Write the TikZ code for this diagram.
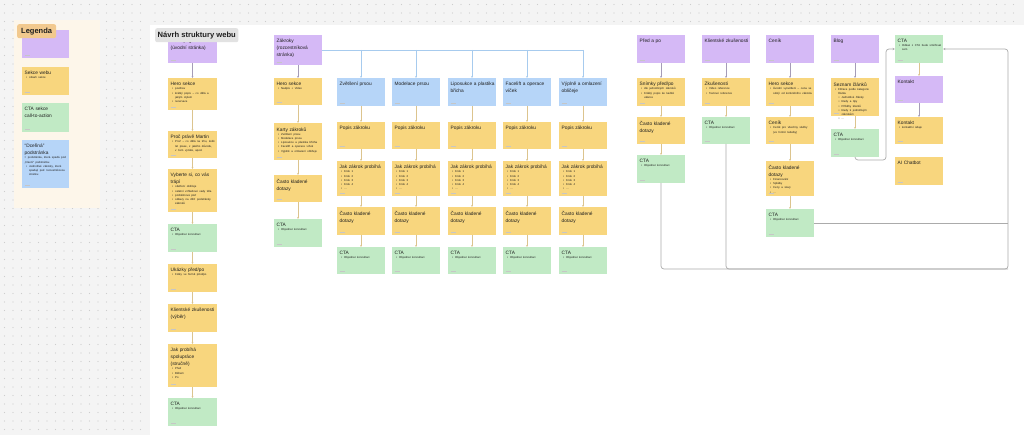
\documentclass[tikz,border=0pt]{standalone}
\usepackage{fontspec}
\setmainfont{Liberation Sans}
\usetikzlibrary{arrows.meta}
\setlength{\parindent}{0pt}
\definecolor{cpur}{HTML}{D5B9F6}
\definecolor{cyel}{HTML}{F8D67E}
\definecolor{cgrn}{HTML}{C1EAC5}
\definecolor{cblu}{HTML}{B6D5F8}
\definecolor{cbg}{HTML}{F4F4F4}
\definecolor{cdot}{HTML}{CDCDCD}
\definecolor{clgd}{HTML}{FDF6EA}
\definecolor{ctag}{HTML}{F2C98E}
\definecolor{cttl}{HTML}{E2E2E2}
\definecolor{carr}{HTML}{DCC48E}
\definecolor{carp}{HTML}{A59CB8}
\definecolor{cbln}{HTML}{A7CBEE}
\definecolor{cgln}{HTML}{ABABAB}
\definecolor{ctxt}{HTML}{1E1E1E}

\newcommand\tfont{\fontsize{4.8}{7}\selectfont}
\newcommand\bfnt{\fontsize{2.8}{4.2}\selectfont}
\newcommand\bul[1]{\par{\bfnt\hangindent=4.5pt\hspace*{1.5pt}\makebox[3pt][l]{\textbullet}#1\par}}
\newcommand\sbul[1]{\par{\bfnt\hangindent=8pt\hspace*{5pt}\makebox[3pt][l]{\textbullet}#1\par}}
\newcommand\smallnote[1]{\par{\bfnt #1\par}}

\tikzset{
  card/.style={rectangle, draw=none, minimum width=48pt, inner sep=0pt, outer sep=0pt},
  ctext/.style={inner sep=0pt, align=left, text width=44pt, font=\tfont, text=ctxt},
  yel/.style={fill=cyel}, pur/.style={fill=cpur}, grn/.style={fill=cgrn}, blu/.style={fill=cblu},
  authm/.style={draw=gray!45, line width=0.5pt},
  fl/.style={draw=carr, line width=0.45pt, -{Stealth[length=2pt,width=1.8pt]}},
  flp/.style={fl, draw=carp},
  bline/.style={draw=cbln, line width=0.5pt},
  blarr/.style={bline, -{Stealth[length=2pt,width=1.8pt]}},
  gl/.style={draw=cgln, line width=0.7pt, rounded corners=3pt},
  ltag/.style={fill=ctag, rounded corners=2pt, inner xsep=4pt, inner ysep=0pt, minimum height=14pt, font=\bfseries\fontsize{7.5}{8}\selectfont, text=ctxt},
  ttag/.style={fill=cttl, rounded corners=2pt, inner xsep=2.5pt, inner ysep=0pt, minimum height=14pt, font=\bfseries\fontsize{7.6}{8}\selectfont, text=ctxt}
}

\newcommand\stick[7]{%
  \node[card,#2,minimum height=#5,anchor=north west] (#1) at (#3,#4) {};
  \node[ctext,anchor=north west] (#1-t) at ([shift={(2.5,4)}]#1.north west) {#6#7};
  \draw[authm] ([shift={(2.5,-3)}]#1.south west) -- ++(5,0);
}

\begin{document}
\begin{tikzpicture}[x=1pt,y=-1pt]
\useasboundingbox (0,0) rectangle (1024,435);
\fill[cbg] (0,0) rectangle (1024,435);
\foreach \x in {4.5,13,...,146} {\foreach \y in {4.5,13,...,432} {\fill[cdot] (\x,\y) circle[radius=0.6];}}
\foreach \x in {155,163.5,...,1020} {\foreach \y in {4.5,13,21.5} {\fill[cdot] (\x,\y) circle[radius=0.6];}}
\fill[white] (150,25) rectangle (1024,435);

% ---------- Legend ----------
\fill[clgd] (14,20) rectangle (100,208);
\stick{lg1}{pur,minimum width=47pt}{22}{30}{28}{Stránka webu}{}
\stick{lg2}{yel,minimum width=47pt}{22}{67}{28}{Sekce webu}{\bul{obsah sekce}}
\stick{lg3}{grn,minimum width=47pt}{22}{103}{29}{CTA sekce\\call-to-action}{}
\stick{lg4}{blu,minimum width=47pt}{22}{140}{48}{“Dceřiná”\\podstránka}{\smallnote{= podstránka, která spadá pod „hlavní“ podstránku}\bul{Jednotlivé zákroky, které spadají pod rozcestníkovou stránku}}
\node[ltag,anchor=north west] (legenda) at (17,24) {Legenda};

% ---------- Homepage column ----------
\stick{h0}{pur,minimum width=49pt}{168}{35}{28}{Homepage\\(úvodní stránka)}{}
\stick{h1}{yel,minimum width=49pt}{168}{78}{32}{Hero sekce}{\bul{pozdrav}\bul{krátký popis – co dělá a jakým stylem}\bul{rezervace}}
\stick{h2}{yel,minimum width=49pt}{168}{131}{27}{Proč právě Martin}{\bul{Proč – co dělá na trhu, kolik let praxe, z jakého důvodu, v čem vyniká, apod.}}
\stick{h3}{yel,minimum width=49pt}{168}{169}{43}{Vyberte si, co vás\\trápí}{\bul{ošetření obličeje}\bul{ostatní vzhledové vady těla}\bul{problémová pleť}\bul{odkazy na dílčí podstránky zákroků}}
\stick{h4}{grn,minimum width=49pt}{168}{224}{28}{CTA}{\bul{Objednat konzultaci}}
\stick{h5}{yel,minimum width=49pt}{168}{264}{28}{Ukázky před/po}{\bul{Fotky ve formě před/po}}
\stick{h6}{yel,minimum width=49pt}{168}{304}{28}{Klientské zkušenosti\\(výběr)}{}
\stick{h7}{yel,minimum width=49pt}{168}{344}{43}{Jak probíhá\\spolupráce\\(stručně)}{\bul{Před}\bul{Během}\bul{Po}}
\stick{h8}{grn,minimum width=49pt}{168}{398}{28}{CTA}{\bul{Objednat konzultaci}}
\draw[flp] (h0.south) -- (h1.north);
\foreach \a/\b in {h1/h2,h2/h3,h3/h4,h4/h5,h5/h6,h6/h7,h7/h8} {\draw[fl] (\a.south) -- (\b.north);}
\node[ttag,anchor=north west] (title) at (155,28) {Návrh struktury webu};

% ---------- Zákroky column ----------
\stick{z0}{pur}{274}{35}{30}{Zákroky\\(rozcestníková\\stránka)}{}
\stick{z1}{yel}{274}{78}{27}{Hero sekce}{\bul{Nadpis + Video}}
\stick{z2}{yel}{274}{123}{37}{Karty zákroků}{\bul{Zvětšení prsou}\bul{Modelace prsou}\bul{Liposukce a plastika břicha}\bul{Facelift a operace víček}\bul{Výplně a omlazení obličeje}}
\stick{z3}{yel}{274}{175}{27}{Často kladené\\dotazy}{}
\stick{z4}{grn}{274}{219}{28}{CTA}{\bul{Objednat konzultaci}}
\draw[flp] (z0.south) -- (z1.north);
\foreach \a/\b in {z1/z2,z2/z3,z3/z4} {\draw[fl] (\a.south) -- (\b.north);}

% ---------- Sub-pages (blue) ----------
\foreach \i/\x/\nm in {1/337/{Zvětšení prsou},2/392/{Modelace prsou},3/448/{Liposukce a plastika\\břicha},4/503/{Facelift a operace\\víček},5/559/{Výplně a omlazení\\obličeje}} {
  \stick{b\i}{blu}{\x}{78}{28}{\nm}{}
  \stick{p\i}{yel}{\x}{122}{27}{Popis zákroku}{}
  \stick{j\i}{yel}{\x}{161}{35}{Jak zákrok probíhá}{\bul{Krok 1}\bul{Krok 2}\bul{Krok 3}\bul{Krok 4}\bul{...}}
  \stick{f\i}{yel}{\x}{207}{28}{Často kladené\\dotazy}{}
  \stick{c\i}{grn}{\x}{247}{27}{CTA}{\bul{Objednat konzultaci}}
  \draw[fl] (b\i.south) -- (p\i.north);
  \draw[fl] (p\i.south) -- (j\i.north);
  \draw[fl] (j\i.south) -- (f\i.north);
  \draw[fl] (f\i.south) -- (c\i.north);
}
\draw[bline] (z0.east) -- (b5.north |- z0.east);
\foreach \i in {1,...,5} {\draw[blarr] (b\i.north |- z0.east) -- (b\i.north);}

% ---------- Před a po ----------
\stick{pa0}{pur}{637}{35}{28}{Před a po}{}
\stick{pa1}{yel}{637}{78}{28}{Snímky před/po}{\bul{dle jednotlivých zákroků}\bul{Krátký popis ke každé ukázce}}
\stick{pa2}{yel}{637}{117}{27}{Často kladené\\dotazy}{}
\stick{pa3}{grn}{637}{155}{28}{CTA}{\bul{Objednat konzultaci}}
\draw[flp] (pa0.south) -- (pa1.north);
\foreach \a/\b in {pa1/pa2,pa2/pa3} {\draw[fl] (\a.south) -- (\b.north);}

% ---------- Klientské zkušenosti ----------
\stick{kz0}{pur}{702}{35}{28}{Klientské zkušenosti}{}
\stick{kz1}{yel}{702}{78}{28}{Zkušenosti}{\bul{Video reference}\bul{Textové reference}}
\stick{kz2}{grn}{702}{117}{27}{CTA}{\bul{Objednat konzultaci}}
\draw[flp] (kz0.south) -- (kz1.north);
\draw[fl] (kz1.south) -- (kz2.north);

% ---------- Ceník ----------
\stick{ce0}{pur}{766}{35}{28}{Ceník}{}
\stick{ce1}{yel}{766}{78}{28}{Hero sekce}{\bul{Úvodní vysvětlení – cena se odvíjí od konkrétního zákroku}}
\stick{ce2}{yel}{766}{117}{27}{Ceník}{\bul{Ceník pro všechny služby (ve formě tabulky)}}
\stick{ce3}{yel}{766}{161}{35}{Často kladené\\dotazy}{\bul{Financování}\bul{Splátky}\bul{Ceny a slevy}\bul{...}}
\stick{ce4}{grn}{766}{209}{28}{CTA}{\bul{Objednat konzultaci}}
\draw[flp] (ce0.south) -- (ce1.north);
\foreach \a/\b in {ce1/ce2,ce2/ce3,ce3/ce4} {\draw[fl] (\a.south) -- (\b.north);}

% ---------- Blog ----------
\stick{bl0}{pur}{831}{35}{28}{Blog}{}
\stick{bl1}{yel}{831}{78}{38}{Seznam článků}{\bul{Filtrace podle kategorie článku}\sbul{Jednotlivé články}\sbul{Rady a tipy}\sbul{Příběhy klientů}\sbul{Rady k jednotlivým zákrokům}\sbul{...}}
\stick{bl2}{grn}{831}{129}{28}{CTA}{\bul{Objednat konzultaci}}
\draw[flp] (bl0.south) -- (bl1.north);
\draw[fl] (bl1.south) -- (bl2.north);

% ---------- Kontakt column ----------
\stick{r0}{grn}{895}{35}{28}{CTA}{\bul{Odkaz z CTA bude směřovat sem}}
\stick{r1}{pur}{895}{76}{27}{Kontakt}{}
\stick{r2}{yel}{895}{117}{27}{Kontakt}{\bul{kontaktní údaje}}
\stick{r3}{yel}{895}{157}{28}{AI Chatbot}{}
\draw[fl] (r0.south) -- (r1.north);
\draw[flp] (r1.south) -- (r2.north);

% ---------- CTA connectors ----------
\coordinate (busB) at (1008,269);
\coordinate (busT) at (1008,49);
\coordinate (blogC) at (886,160);
\draw[gl] (kz2.south) |- (busB);
\draw[gl] (ce4.east) -- (ce4.east -| busB);
\draw[gl,-{Stealth[length=2.5pt,width=2.2pt]}] (pa3.south) |- (busB) -- (busT) -- (r0.east);
\draw[gl,-{Stealth[length=2.5pt,width=2.2pt]}] (bl2.south) |- (blogC) |- (r0.west);
\end{tikzpicture}
\end{document}
